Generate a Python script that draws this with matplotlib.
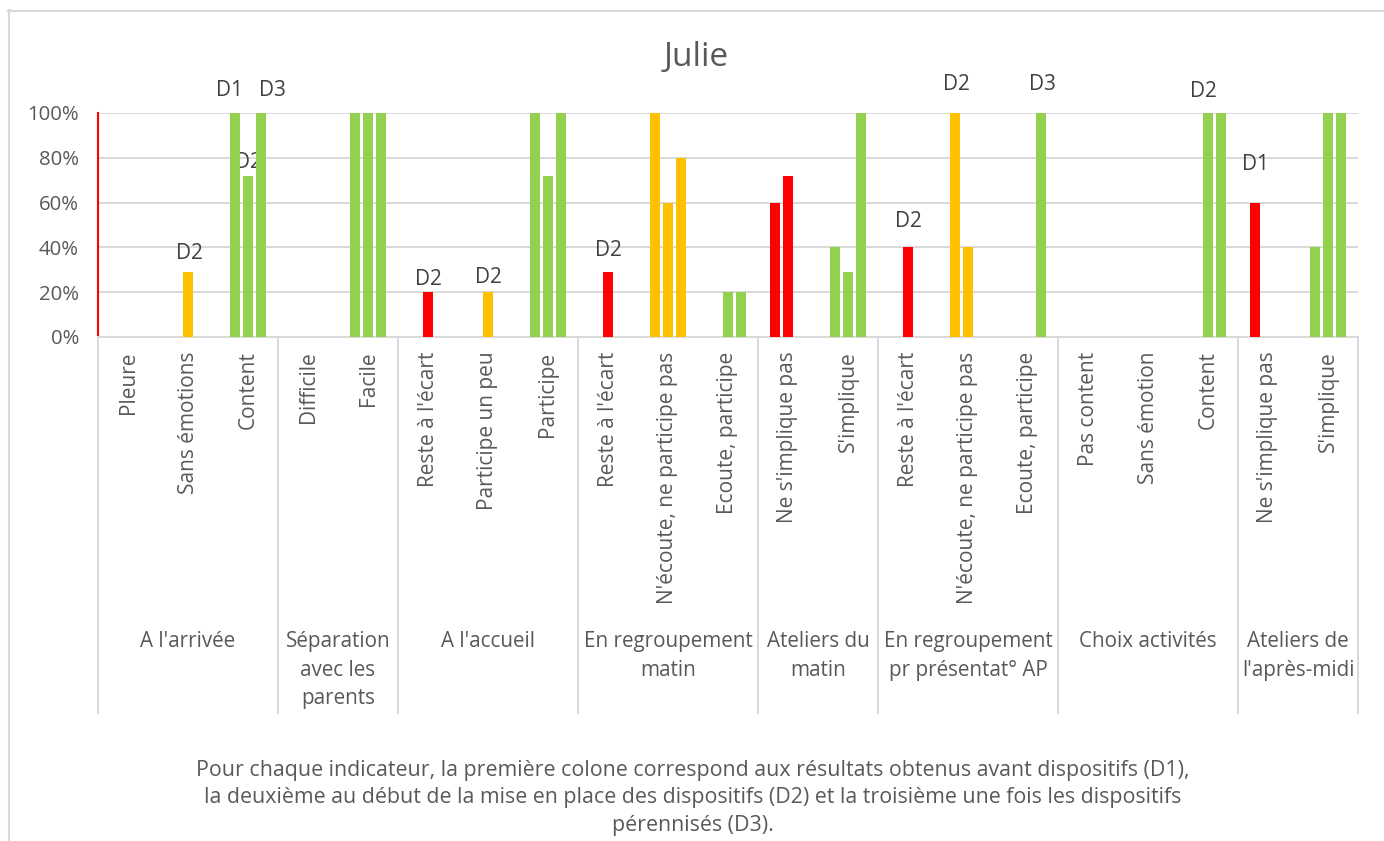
import matplotlib
matplotlib.use("Agg")
import matplotlib.pyplot as plt
from matplotlib.lines import Line2D
import matplotlib.transforms as mtransforms
import numpy as np

# ---------------- data ----------------
categories = [
    "Pleure", "Sans émotions", "Content",
    "Difficile", "Facile",
    "Reste à l'écart", "Participe un peu", "Participe",
    "Reste à l'écart", "N'écoute, ne participe pas", "Ecoute, participe",
    "Ne s'implique pas", "S'implique",
    "Reste à l'écart", "N'écoute, ne participe pas", "Ecoute, participe",
    "Pas content", "Sans émotion", "Content",
    "Ne s'implique pas", "S'implique",
]
groups = [
    "A l'arrivée", "Séparation\navec les\nparents", "A l'accueil",
    "En regroupement\nmatin", "Ateliers du\nmatin",
    "En regroupement\npr présentat° AP", "Choix activités",
    "Ateliers de\nl'après-midi",
]
group_sizes = [3, 2, 3, 3, 2, 3, 3, 2]

series_names = ["D1", "D2", "D3"]
D1 = [0, 0, 100, 0, 100, 0, 0, 100, 0, 100, 0, 60, 40, 0, 100, 0, 0, 0, 0, 60, 40]
D2 = [0, 29, 72, 0, 100, 20, 20, 72, 29, 60, 20, 72, 29, 40, 40, 0, 0, 0, 100, 0, 100]
D3 = [0, 0, 100, 0, 100, 0, 0, 100, 0, 80, 20, 0, 100, 0, 0, 100, 0, 0, 100, 0, 100]

# colour of each category (red = negative, orange = neutral, green = positive)
cat_colors = [
    "#FF0000", "#FFC000", "#92D050",
    "#FF0000", "#92D050",
    "#FF0000", "#FFC000", "#92D050",
    "#FF0000", "#FFC000", "#92D050",
    "#FF0000", "#92D050",
    "#FF0000", "#FFC000", "#92D050",
    "#FF0000", "#FFC000", "#92D050",
    "#FF0000", "#92D050",
]

# data labels: (category index, series index, text)
data_labels = [
    (1, 1, "D2"), (2, 0, "D1"), (2, 1, "D2"), (2, 2, "D3"),
    (5, 1, "D2"), (6, 1, "D2"), (8, 1, "D2"),
    (13, 1, "D2"), (14, 0, "D2"), (15, 2, "D3"),
    (18, 1, "D2"), (19, 0, "D1"),
]
# style: offsets (pixels) of each data label from the top of its bar
label_dx_px = [1, -5, 0, 11, 0, 0, 0, 0, 1, 1, -5, 0]
label_dy_px = [19, 22, 13, 22, 13, 15, 22, 26, 28, 28, 21, 38]

caption = ("Pour chaque indicateur, la première colone correspond aux résultats obtenus avant dispositifs (D1),\n"
           "la deuxième au début de la mise en place des dispositifs (D2) et la troisième une fois les dispositifs\n"
           "pérennisés (D3).")

yticks = [0, 20, 40, 60, 80, 100]
ytick_labels = ["0%", "20%", "40%", "60%", "80%", "100%"]

# ---------------- figure ----------------
plt.rcParams["font.family"] = ["Open Sans", "DejaVu Sans"]
W, H = 1384, 841
fig = plt.figure(figsize=(W / 100, H / 100), dpi=100)
fig.patch.set_facecolor("white")

def fx(px):
    return px / W

def fy(py):
    return 1 - py / H

ax = fig.add_axes([fx(98), fy(337), fx(1358) - fx(98), fy(113) - fy(337)])

TXT = "#595959"
GRID = "#D9D9D9"
n = len(categories)
x = np.arange(n)
bw = 10 / 60
step = 13 / 60
series = [D1, D2, D3]
for s, vals in enumerate(series):
    ax.bar(x + (s - 1) * step, vals, width=bw, color=cat_colors, zorder=3,
           linewidth=0)

ax.set_xlim(-0.5, n - 0.5)
ax.set_ylim(0, 100)
ax.set_yticks(yticks)
ax.set_yticklabels(ytick_labels)
ax.set_xticks(x)
ax.set_xticklabels(categories, rotation=90, va="top", ha="center")
ax.tick_params(axis="y", length=0, pad=13.7, labelsize=14.7, labelcolor=TXT)
ax.tick_params(axis="x", length=0, pad=10.5, labelsize=15.0, labelcolor=TXT)
ax.set_axisbelow(True)
ax.yaxis.grid(True, color=GRID, linewidth=1.4)
for side in ["top", "right"]:
    ax.spines[side].set_visible(False)
ax.spines["bottom"].set_color(GRID)
ax.spines["bottom"].set_linewidth(1.4)
ax.spines["left"].set_color("#FF0000")
ax.spines["left"].set_linewidth(1.5)

# data labels
for (ci, si, txt), dx, dy in zip(data_labels, label_dx_px, label_dy_px):
    val = series[si][ci]
    ax.annotate(txt, xy=(ci + (si - 1) * step, val), xytext=(dx, dy),
                textcoords="offset pixels", ha="center", va="center",
                fontsize=15, color="#404040", zorder=2, annotation_clip=False)

# group dividers and group labels
trans = mtransforms.blended_transform_factory(ax.transData, fig.transFigure)
bounds = np.concatenate([[0], np.cumsum(group_sizes)]) - 0.5
for b in bounds:
    fig.add_artist(Line2D([b, b], [fy(337), fy(713)], transform=trans,
                          color=GRID, linewidth=1.4, clip_on=False))
for g, name in enumerate(groups):
    cx = (bounds[g] + bounds[g + 1]) / 2
    fig.text(cx, fy(631), name, transform=trans, ha="center", va="top",
             fontsize=14.9, color=TXT, linespacing=1.47)

# title
fig.text(fx(696), fy(57), "Julie", ha="center", va="center", fontsize=24,
         color=TXT)

# caption
fig.text(fx(693), fy(798), caption, ha="center", va="center", fontsize=15.4,
         color=TXT, linespacing=1.42)

# chart border (left and top edges visible)
fig.add_artist(Line2D([fx(8.5), fx(8.5)], [fy(10), fy(841)],
                      transform=fig.transFigure, color=GRID, linewidth=1.5))
fig.add_artist(Line2D([fx(8), fx(1384)], [fy(10.5), fy(10.5)],
                      transform=fig.transFigure, color=GRID, linewidth=1.5))

fig.savefig("out.png", dpi=100)
